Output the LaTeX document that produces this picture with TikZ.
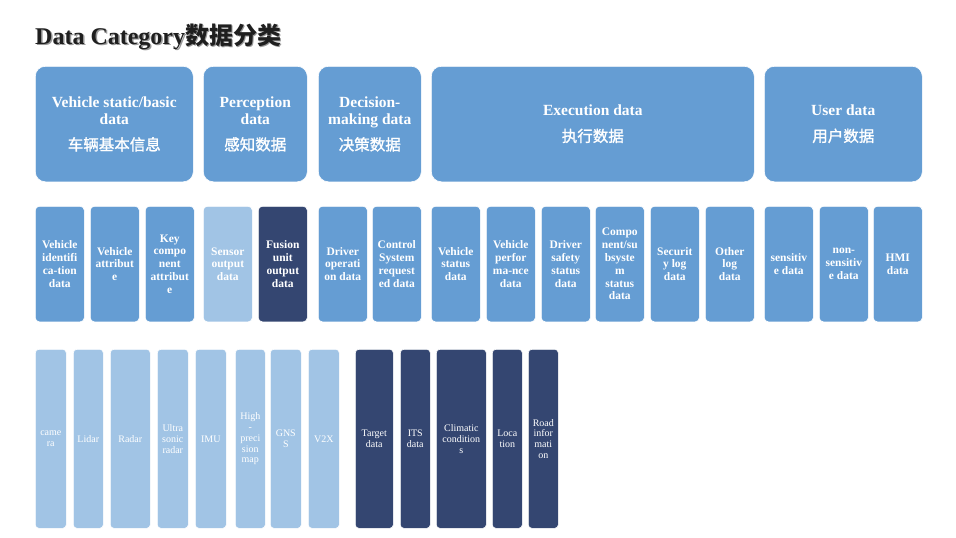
\documentclass[tikz,border=0pt]{standalone}
\usepackage{fontspec}
\setmainfont{Liberation Serif}
\newfontfamily\cjk{Noto Sans CJK SC}
\newfontfamily\cjkmid[FakeBold=1.4]{Noto Sans CJK SC}
\usepackage{tikz}
\usepackage{xcolor}
\definecolor{midblue}{RGB}{101,157,211}
\definecolor{lightblue}{RGB}{161,196,229}
\definecolor{navy}{RGB}{52,70,113}

\begin{document}
\begin{tikzpicture}[x=1pt, y=-1pt,
    catbox/.style={fill=midblue, draw=white, line width=0.6pt, rounded corners=10pt, text=white,
      align=center, inner sep=0pt, anchor=north west, minimum height=\ha,
      font=\bfseries\fontsize{15.5}{17}\selectfont},
    subbox/.style={fill=midblue, draw=white, line width=0.6pt, rounded corners=4pt, text=white,
      align=center, inner sep=0pt, anchor=north west, minimum height=\hb, minimum width=\wb,
      font=\bfseries\fontsize{11.5}{12.8}\selectfont},
    srcbox/.style={fill=lightblue, draw=white, line width=0.6pt, rounded corners=3.5pt, text=white,
      align=center, inner sep=0pt, anchor=north west, minimum height=\hc, minimum width=\wc,
      font=\fontsize{10}{10.8}\selectfont}]
      \pgfmathsetmacro{\ya}{66}
      \pgfmathsetmacro{\ha}{115.5}
      \pgfmathsetmacro{\yb}{206}
      \pgfmathsetmacro{\hb}{115.5}
      \pgfmathsetmacro{\wb}{49}
      \pgfmathsetmacro{\yc}{349}
      \pgfmathsetmacro{\hc}{179}
      \pgfmathsetmacro{\wc}{31}
      \useasboundingbox (0,0) rectangle (956,538);

      \node[anchor=base west, inner sep=0pt, text=black!40, font=\bfseries\fontsize{24}{28}\selectfont] (titleshadow) at (36.5,45.5) {Data Category{\cjk\bfseries 数据分类}};
      \node[anchor=base west, inner sep=0pt, text=black!88, font=\bfseries\fontsize{24}{28}\selectfont] (title) at (35,44) {Data Category{\cjk\bfseries 数据分类}};

      \node[catbox, minimum width=158] (static) at (35,\ya) {Vehicle static/basic\\data\\[9pt]{\cjkmid\mdseries 车辆基本信息}};
      \node[catbox, minimum width=104] (perception) at (203,\ya) {Perception\\data\\[9pt]{\cjkmid\mdseries 感知数据}};
      \node[catbox, minimum width=103] (decision) at (318,\ya) {Decision-\\making data\\[9pt]{\cjkmid\mdseries 决策数据}};
      \node[catbox, minimum width=323] (execution) at (431,\ya) {Execution data\\[9pt]{\cjkmid\mdseries 执行数据}};
      \node[catbox, minimum width=158] (user) at (764,\ya) {User data\\[9pt]{\cjkmid\mdseries 用户数据}};

      \node[subbox] (vid) at (35,\yb) {Vehicle\\identifi\\ca-tion\\data};
      \node[subbox] (vattr) at (90,\yb) {Vehicle\\attribut\\e};
      \node[subbox] (keycomp) at (145,\yb) {Key\\compo\\nent\\attribut\\e};
      \node[subbox, fill=lightblue] (sensorout) at (203,\yb) {Sensor\\output\\data};
      \node[subbox, fill=navy] (fusionout) at (258,\yb) {Fusion\\unit\\output\\data};
      \node[subbox] (driverop) at (318,\yb) {Driver\\operati\\on data};
      \node[subbox] (ctrlreq) at (372,\yb) {Control\\System\\request\\ed data};
      \node[subbox] (vstatus) at (431,\yb) {Vehicle\\status\\data};
      \node[subbox] (vperf) at (486,\yb) {Vehicle\\perfor\\ma-nce\\data};
      \node[subbox] (dsafety) at (541,\yb) {Driver\\safety\\status\\data};
      \node[subbox] (compstatus) at (595,\yb) {Compo\\nent/su\\bsyste\\m\\status\\data};
      \node[subbox] (seclog) at (650,\yb) {Securit\\y log\\data};
      \node[subbox] (otherlog) at (705,\yb) {Other\\log\\data};
      \node[subbox] (sens) at (764,\yb) {sensitiv\\e data};
      \node[subbox] (nonsens) at (819,\yb) {non-\\sensitiv\\e data};
      \node[subbox] (hmi) at (873,\yb) {HMI\\data};

      \node[srcbox] (camera) at (35,\yc) {came\\ra};
      \node[srcbox, minimum width=30] (lidar) at (73,\yc) {Lidar};
      \node[srcbox, minimum width=40] (radar) at (110,\yc) {Radar};
      \node[srcbox] (usradar) at (157,\yc) {Ultra\\sonic\\radar};
      \node[srcbox] (imu) at (195,\yc) {IMU};
      \node[srcbox, minimum width=30] (hdmap) at (235,\yc) {High\\-\\preci\\sion\\map};
      \node[srcbox] (gnss) at (270,\yc) {GNS\\S};
      \node[srcbox] (vtox) at (308,\yc) {V2X};
      \node[srcbox, fill=navy, minimum width=38] (target) at (355,\yc) {Target\\data};
      \node[srcbox, fill=navy, minimum width=30] (its) at (400,\yc) {ITS\\data};
      \node[srcbox, fill=navy, minimum width=50] (climate) at (436,\yc) {Climatic\\condition\\s};
      \node[srcbox, fill=navy, minimum width=30] (location) at (492,\yc) {Loca\\tion};
      \node[srcbox, fill=navy, minimum width=30] (roadinfo) at (528,\yc) {Road\\infor\\mati\\on};
    \end{tikzpicture}
\end{document}
